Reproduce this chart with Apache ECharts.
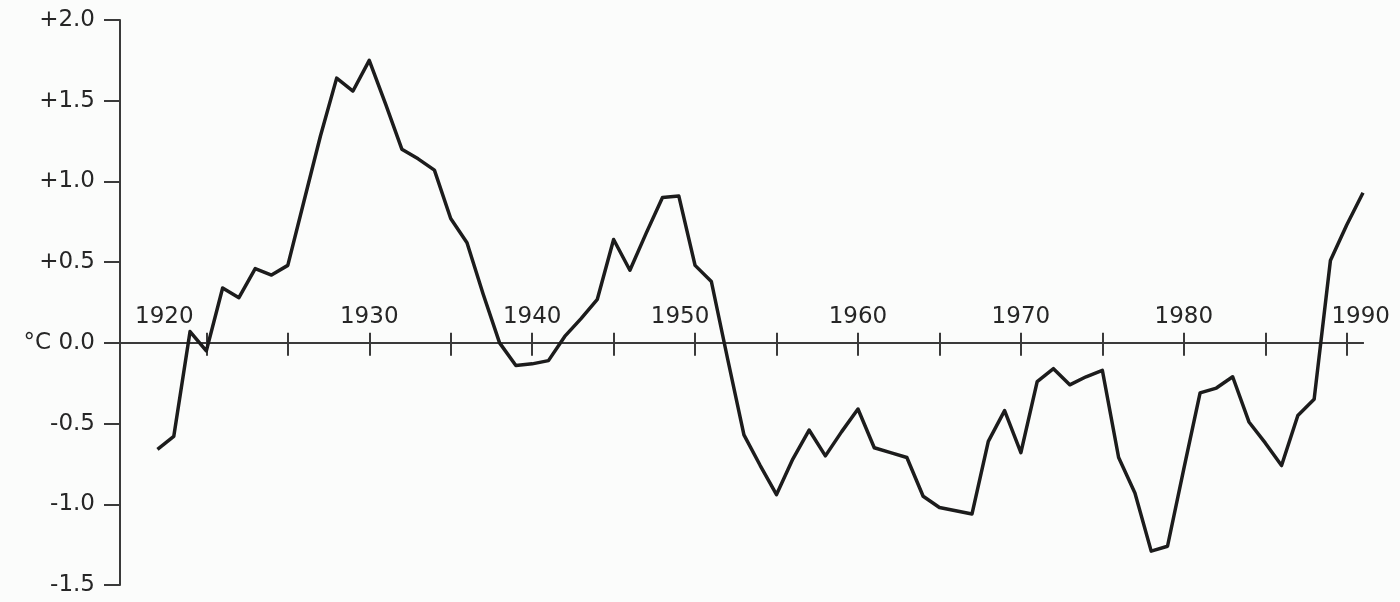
<!DOCTYPE html>
<html>
<head>
<meta charset="utf-8">
<script src="https://cdn.jsdelivr.net/npm/echarts@6/dist/echarts.min.js"></script>
<style>
  html, body { margin: 0; padding: 0; background: #fbfcfb; }
  #chart { width: 1400px; height: 602px; }
</style>
</head>
<body>
<div id="chart"></div>
<script>
// temperature anomaly, °C
const years = [
  1917, 1918, 1919, 1920, 1921, 1922, 1923, 1924, 1925, 1926,
  1927, 1928, 1929, 1930, 1931, 1932, 1933, 1934, 1935, 1936,
  1937, 1938, 1939, 1940, 1941, 1942, 1943, 1944, 1945, 1946,
  1947, 1948, 1949, 1950, 1951, 1952, 1953, 1954, 1955, 1956,
  1957, 1958, 1959, 1960, 1961, 1962, 1963, 1964, 1965, 1966,
  1967, 1968, 1969, 1970, 1971, 1972, 1973, 1974, 1975, 1976,
  1977, 1978, 1979, 1980, 1981, 1982, 1983, 1984, 1985, 1986,
  1987, 1988, 1989, 1990, 1991
]
const anomalies = [
  -0.66, -0.58, 0.07, -0.05, 0.34, 0.28, 0.46, 0.42, 0.48, 0.88,
  1.28, 1.64, 1.56, 1.75, 1.48, 1.20, 1.14, 1.07, 0.77, 0.62,
  0.30, 0.00, -0.14, -0.13, -0.11, 0.04, 0.15, 0.27, 0.64, 0.45,
  0.68, 0.90, 0.91, 0.48, 0.38, -0.10, -0.57, -0.76, -0.94, -0.72,
  -0.54, -0.70, -0.55, -0.41, -0.65, -0.68, -0.71, -0.95, -1.02, -1.04,
  -1.06, -0.61, -0.42, -0.68, -0.24, -0.16, -0.26, -0.21, -0.17, -0.71,
  -0.93, -1.29, -1.26, -0.78, -0.31, -0.28, -0.21, -0.49, -0.62, -0.76,
  -0.45, -0.35, 0.51, 0.73, 0.93
]
const tickYears = [1920, 1925, 1930, 1935, 1940, 1945, 1950, 1955, 1960, 1965, 1970, 1975, 1980, 1985, 1990]
const labelYears = [1920, 1930, 1940, 1950, 1960, 1970, 1980, 1990]

const ink = '#262626'
const font = 'DejaVu Sans'
const axisStyle = { color: '#3a3a3a', width: 2 }
const textBase = { color: ink, fontFamily: font, fontSize: 23 }

// a few year labels sit off their ticks in the original
const labelShift = { 1920: 'l', 1950: 'm', 1990: 'r' }

function yearLabel(value) {
  const key = labelShift[value] || 'n'
  return `{${key}|${value}}`
}

function tempLabel(value) {
  if (Math.abs(value) < 1e-9) return '°C 0.0'
  return value > 0 ? `+${value.toFixed(1)}` : value.toFixed(1)
}

const gridBox = { left: 120, right: 37, top: 20, bottom: 17 }
const chart = echarts.init(document.getElementById('chart'))

const xRange = { type: 'value', min: 1914.7, max: 1991, splitLine: { show: false }, position: 'bottom' }

chart.setOption({
  backgroundColor: '#fbfcfb',
  animation: false,
  grid: { ...gridBox, containLabel: false },
  xAxis: [
    {
      ...xRange,
      axisLine: { show: true, onZero: false, lineStyle: axisStyle },
      axisTick: { show: true, inside: false, length: 13, customValues: tickYears, lineStyle: axisStyle },
      axisLabel: {
        show: true,
        inside: true,
        margin: 14,
        customValues: labelYears,
        formatter: yearLabel,
        ...textBase,
        rich: {
          n: { ...textBase },
          l: { ...textBase, padding: [0, 84, 0, 0] },
          m: { ...textBase, padding: [0, 30, 0, 0] },
          r: { ...textBase, padding: [0, 0, 0, 28] },
        },
      },
    },
    {
      ...xRange,
      axisLine: { show: true, onZero: false, lineStyle: axisStyle },
      axisTick: { show: true, inside: true, length: 10, customValues: tickYears, lineStyle: axisStyle },
      axisLabel: { show: false },
    },
  ],
  yAxis: {
    type: 'value',
    min: -1.5,
    max: 2,
    interval: 0.5,
    axisLine: { show: true, onZero: false, lineStyle: axisStyle },
    axisTick: { show: true, length: 16, lineStyle: axisStyle },
    axisLabel: { margin: 25, formatter: tempLabel, ...textBase },
    splitLine: { show: false },
  },
  series: [{
    name: 'anomaly',
    type: 'line',
    xAxisIndex: 0,
    showSymbol: false,
    smooth: false,
    lineStyle: { color: '#1c1c1c', width: 3.5, join: 'round' },
    data: years.map((year, i) => [year, anomalies[i]]),
  }],
})

// move the year axis up to the 0.0 line (labels don't follow onZero)
const zeroY = chart.convertToPixel({ yAxisIndex: 0 }, 0)
const bottomY = chart.getHeight() - gridBox.bottom
const shift = zeroY - bottomY
chart.setOption({ xAxis: [{ offset: shift }, { offset: shift }] })
</script>
</body>
</html>
